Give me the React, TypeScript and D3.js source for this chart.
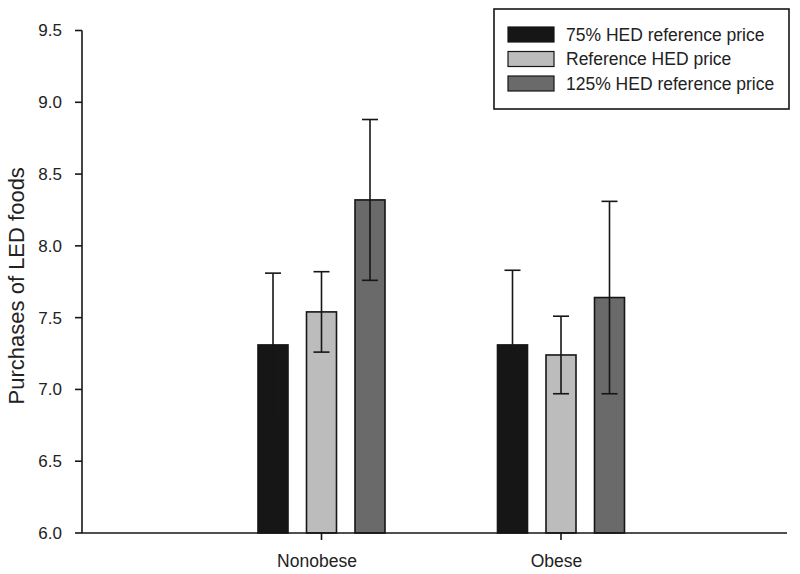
import React from "react";
import * as d3 from "d3";

const categories = ["Nonobese", "Obese"];
const seriesNames = ["75% HED reference price", "Reference HED price", "125% HED reference price"];
const seriesColors = ["#161616", "#bcbcbc", "#6a6a6a"];
// values[series][category]
const means = [
  [7.31, 7.31],
  [7.54, 7.24],
  [8.32, 7.64],
];
const errors = [
  [0.5, 0.52],
  [0.28, 0.27],
  [0.56, 0.67],
];
const yTicks = [6.0, 6.5, 7.0, 7.5, 8.0, 8.5, 9.0, 9.5];

const W = 800;
const H = 574;
const axisLeft = 82;
const axisRight = 787;
const axisBottom = 533;
const axisTop = 30.5;
const font = "Arial, 'Liberation Sans', Helvetica, sans-serif";
const ink = "#161616";

export default function App() {
  const y = d3.scaleLinear().domain([6, 9.5]).range([axisBottom, axisTop]);
  const x = d3.scalePoint<string>().domain(categories).range([321.5, 561]);
  const barW = 30;
  const gap = 48.5;
  const cap = 8;

  return (
    <svg width={W} height={H} style={{ position: "absolute", left: 0, top: 0, background: "#fff" }}>
      {/* bars */}
      {categories.map((c, ci) =>
        seriesNames.map((s, si) => {
          const cx = (x(c) as number) + (si - 1) * gap;
          const v = means[si][ci];
          const e = errors[si][ci];
          return (
            <g key={c + s}>
              <rect
                x={cx - barW / 2}
                y={y(v)}
                width={barW}
                height={axisBottom - y(v)}
                fill={seriesColors[si]}
                stroke={ink}
                strokeWidth={1.6}
              />
              <line x1={cx} x2={cx} y1={y(v + e)} y2={y(v - e)} stroke={ink} strokeWidth={1.6} />
              <line x1={cx - cap} x2={cx + cap} y1={y(v + e)} y2={y(v + e)} stroke={ink} strokeWidth={1.6} />
              <line x1={cx - cap} x2={cx + cap} y1={y(v - e)} y2={y(v - e)} stroke={ink} strokeWidth={1.6} />
            </g>
          );
        })
      )}
      {/* y axis */}
      <line x1={axisLeft} x2={axisLeft} y1={axisTop} y2={axisBottom} stroke={ink} strokeWidth={1.6} />
      {yTicks.map((t) => (
        <g key={t}>
          <line x1={axisLeft - 7} x2={axisLeft} y1={y(t)} y2={y(t)} stroke={ink} strokeWidth={1.6} />
          <text
            x={62}
            y={y(t)}
            dy="0.35em"
            textAnchor="end"
            fontFamily={font}
            fontSize={17}
            fill="#222"
          >
            {t.toFixed(1)}
          </text>
        </g>
      ))}
      {/* x axis */}
      <line x1={axisLeft} x2={axisRight} y1={axisBottom} y2={axisBottom} stroke={ink} strokeWidth={1.6} />
      {categories.map((c) => (
        <g key={c}>
          <line x1={x(c)} x2={x(c)} y1={axisBottom} y2={axisBottom + 7} stroke={ink} strokeWidth={1.6} />
          <text x={(x(c) as number) - 4.5} y={567} textAnchor="middle" fontFamily={font} fontSize={17.5} fill="#222">
            {c}
          </text>
        </g>
      ))}
      {/* y title */}
      <text
        transform={`translate(24, ${(axisTop + axisBottom) / 2 + 4}) rotate(-90)`}
        textAnchor="middle"
        fontFamily={font}
        fontSize={22}
        fill="#222"
      >
        Purchases of LED foods
      </text>
      {/* legend */}
      <rect x={494} y={9} width={295} height={100} fill="#fff" stroke={ink} strokeWidth={1.6} />
      {seriesNames.map((s, si) => (
        <g key={s}>
          <rect x={508} y={27 + si * 24.5} width={46} height={15} fill={seriesColors[si]} stroke={ink} strokeWidth={1.2} />
          <text x={566} y={34.5 + si * 24.5} dy="0.35em" fontFamily={font} fontSize={17.5} fill="#222">
            {s}
          </text>
        </g>
      ))}
    </svg>
  );
}
